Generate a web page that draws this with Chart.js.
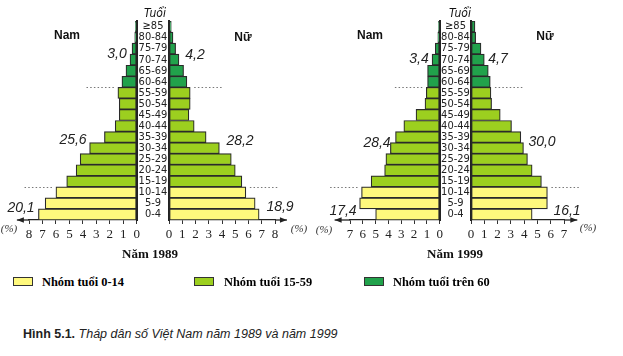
<!DOCTYPE html>
<html><head><meta charset="utf-8">
<script src="https://cdn.jsdelivr.net/npm/chart.js@4.4.1/dist/chart.umd.min.js"></script>
<style>
html,body{margin:0;padding:0;background:#fff;}
#wrap{position:relative;width:623px;height:356px;overflow:hidden;background:#fff;}
canvas{position:absolute;top:0;}
.t{position:absolute;transform:translate(-50%,-50%);white-space:nowrap;line-height:1;color:#111;}
.narrow{font-family:'Liberation Sans Narrow','Arial Narrow','DejaVu Sans Condensed','Liberation Sans',sans-serif;}
.val{font-family:'Liberation Sans Narrow','Arial Narrow','Liberation Sans',sans-serif;font-style:italic;font-size:14px;color:#222;}
.side{font-family:'Liberation Sans','Arial',sans-serif;font-weight:bold;font-size:12px;}
.year{font-family:'Liberation Serif','Times New Roman',serif;font-weight:bold;font-size:13px;}
.pct{font-family:'Liberation Serif','Times New Roman',serif;font-style:italic;font-size:11px;color:#333;}
.leg{position:absolute;top:282px;transform:translateY(-50%);font-family:'Liberation Serif','Times New Roman',serif;font-weight:bold;font-size:12.4px;white-space:nowrap;line-height:1;}
.box{position:absolute;top:277px;width:18px;height:7px;border:1.3px solid #333;}
.cap{position:absolute;left:23px;top:334px;transform:translateY(-50%);font-family:'Liberation Sans','Arial',sans-serif;font-size:12.5px;white-space:nowrap;line-height:1;color:#222;}
</style></head>
<body><div id="wrap">
<canvas id="m89" width="138" height="250" style="left:5px"></canvas>
<canvas id="f89" width="168" height="250" style="left:137px"></canvas>
<canvas id="m99" width="126" height="250" style="left:320px"></canvas>
<canvas id="f99" width="149" height="250" style="left:440px"></canvas>
</div>
<script>
// ---- data ----
const ages = ['0-4','5-9','10-14','15-19','20-24','25-29','30-34','35-39','40-44','45-49','50-54','55-59','60-64','65-69','70-74','75-79','80-84','≥85'];
const ageGroup = [0,0,0,1,1,1,1,1,1,1,1,1,2,2,2,2,2,2];
const groupNames = ['Nhóm tuổi 0-14','Nhóm tuổi 15-59','Nhóm tuổi trên 60'];
const male1989   = [7.3, 6.8, 6.0, 5.2, 4.5, 4.2, 3.5, 2.4, 1.6, 1.3, 1.3, 1.4, 1.1, 0.8, 0.5, 0.35, 0.15, 0.1];
const female1989 = [6.8, 6.5, 5.8, 5.5, 5.0, 4.7, 3.8, 2.8, 1.9, 1.5, 1.6, 1.6, 1.35, 1.1, 0.75, 0.5, 0.3, 0.17];
const male1999   = [5.0, 6.25, 6.1, 5.35, 4.3, 4.2, 3.85, 3.45, 2.8, 1.85, 1.15, 1.05, 0.95, 0.95, 0.6, 0.35, 0.15, 0.1];
const female1999 = [4.6, 5.75, 5.75, 5.3, 4.6, 4.25, 3.95, 3.75, 3.05, 2.2, 1.55, 1.5, 1.45, 1.3, 1.0, 0.75, 0.35, 0.3];
const totals1989Male = ['20,1','25,6','3,0'];
const totals1989Female = ['18,9','28,2','4,2'];
const totals1999Male = ['17,4','28,4','3,4'];
const totals1999Female = ['16,1','30,0','4,7'];
const years = ['Năm 1989','Năm 1999'];

// ---- styles ----
const groupColors = ['#FFF97D','#9CCF1F','#21A24B'];
const ageFont = "11px 'Liberation Sans Narrow','Arial Narrow','DejaVu Sans Condensed','Liberation Sans',sans-serif";
const mc = document.createElement('canvas').getContext('2d');
mc.font = ageFont;
const widestAge = Math.max(...ages.map(a => mc.measureText(a).width));

const extrasPlugin = {
  id: 'pyramidExtras',
  afterDraw(chart, args, opts) {
    const {ctx, chartArea, scales} = chart;
    const x = scales.x, y = scales.y;
    const base = chartArea.bottom;
    const edge = x.getPixelForValue(x.max);
    const tip = x.getPixelForValue(opts.arrowTo);
    const dir = Math.sign(tip - edge);
    ctx.save();
    ctx.strokeStyle = '#222'; ctx.fillStyle = '#222'; ctx.lineWidth = 1.3;
    ctx.beginPath(); ctx.moveTo(edge, base); ctx.lineTo(tip, base); ctx.stroke();
    ctx.beginPath(); ctx.moveTo(tip, base); ctx.lineTo(tip - dir*7, base - 2.8); ctx.lineTo(tip - dir*7, base + 2.8); ctx.closePath(); ctx.fill();
    const data = chart.data.datasets[0].data;
    ctx.strokeStyle = '#777'; ctx.lineWidth = 1; ctx.setLineDash([1.5, 2.2]);
    for (let i = 1; i < data.length; i++) {
      if (ageGroup[i] === ageGroup[i-1]) continue;
      const yp = Math.round((y.getPixelForValue(i-1) + y.getPixelForValue(i)) / 2) + 0.5;
      const v = Math.max(data[i-1], data[i]);
      const start = x.getPixelForValue(v) + dir*4;
      ctx.beginPath(); ctx.moveTo(start, yp); ctx.lineTo(start + dir*29, yp); ctx.stroke();
    }
    ctx.restore();
  }
};

function pyramid(id, values, cfg) {
  return new Chart(document.getElementById(id), {
    type: 'bar',
    data: { labels: ages, datasets: [{
      data: values,
      backgroundColor: c => groupColors[ageGroup[c.dataIndex]],
      borderColor: '#2a2a2a', borderWidth: 1.2, borderSkipped: false,
      barPercentage: 1, categoryPercentage: 1
    }]},
    options: {
      indexAxis: 'y', responsive: false, animation: false, devicePixelRatio: 1,
      layout: { padding: cfg.padding },
      plugins: { legend: {display:false}, tooltip: {enabled:false}, pyramidExtras: { arrowTo: cfg.arrowTo } },
      scales: {
        x: {
          min: 0, max: cfg.max, reverse: cfg.male,
          ticks: { stepSize: 1, autoSkip: false, maxRotation: 0, padding: 3, color: '#222',
                   font: { family: "'Liberation Serif','Times New Roman',serif", size: 13 } },
          grid: { display: true, drawOnChartArea: false, drawTicks: true, tickLength: 4, color: '#333', lineWidth: 1 },
          border: { display: true, color: '#222', width: 1.3 },
          afterFit: s => { s.height = 26; }
        },
        y: {
          reverse: true, position: cfg.male ? 'right' : 'left',
          ticks: { display: !cfg.male, autoSkip: false, crossAlign: 'center', color: '#222',
                   padding: Math.max(0, cfg.yWidth/2 - widestAge/2),
                   font: { family: "'Liberation Sans Narrow','Arial Narrow','DejaVu Sans Condensed','Liberation Sans',sans-serif", size: 11 } },
          grid: { display: false, drawTicks: false },
          border: { display: true, color: '#222', width: 2 },
          afterFit: s => { s.width = cfg.yWidth; }
        }
      }
    },
    plugins: [extrasPlugin]
  });
}

pyramid('m89', male1989,   { male: true,  max: 8, arrowTo: 8.9, yWidth: 0,  padding: {left:24, right:6,  top:21, bottom:4} });
pyramid('f89', female1989, { male: false, max: 8, arrowTo: 8.9, yWidth: 32, padding: {left:0,  right:30, top:21, bottom:4} });
pyramid('m99', male1999,   { male: true,  max: 7, arrowTo: 8.2, yWidth: 0,  padding: {left:30, right:6,  top:21, bottom:4} });
pyramid('f99', female1999, { male: false, max: 7, arrowTo: 8.0, yWidth: 31, padding: {left:0,  right:25, top:21, bottom:4} });

// ---- text overlays ----
const wrap = document.getElementById('wrap');
function txt(s, x, y, cls) {
  const d = document.createElement('div'); d.className = 't ' + cls; d.textContent = s;
  d.style.left = x + 'px'; d.style.top = y + 'px'; wrap.appendChild(d); return d;
}
txt('Tuổi', 155, 12.5, 'narrow').style.cssText += ';font-style:italic;font-size:12px;';
txt('Tuổi', 460, 12.5, 'narrow').style.cssText += ';font-style:italic;font-size:12px;';
txt('Nam', 67, 35, 'side'); txt('Nữ', 243, 36.5, 'side');
txt('Nam', 370, 35, 'side'); txt('Nữ', 545, 36, 'side');
// totals: [0-14, 15-59, 60+]
txt(totals1989Male[2], 117, 53, 'val');  txt(totals1989Female[2], 195, 54, 'val');
txt(totals1989Male[1], 73, 138.5, 'val'); txt(totals1989Female[1], 240, 140, 'val');
txt(totals1989Male[0], 21, 207, 'val');  txt(totals1989Female[0], 280, 206, 'val');
txt(totals1999Male[2], 419, 58, 'val');  txt(totals1999Female[2], 498, 57.5, 'val');
txt(totals1999Male[1], 377, 141.7, 'val'); txt(totals1999Female[1], 542, 141, 'val');
txt(totals1999Male[0], 343, 210, 'val'); txt(totals1999Female[0], 567, 210, 'val');
txt('(%)', 9, 228, 'pct'); txt('(%)', 299, 228, 'pct');
txt('(%)', 324, 229, 'pct'); txt('(%)', 588, 227, 'pct');
txt(years[0], 150, 253, 'year'); txt(years[1], 455, 253, 'year');
// legend
const boxX = [13, 194, 364], textX = [42, 224, 393];
groupNames.forEach((n, i) => {
  const b = document.createElement('div'); b.className = 'box'; b.style.left = boxX[i] + 'px'; b.style.background = groupColors[i]; wrap.appendChild(b);
  const t = document.createElement('div'); t.className = 'leg'; t.style.left = textX[i] + 'px'; t.textContent = n; wrap.appendChild(t);
});
const cap = document.createElement('div'); cap.className = 'cap';
cap.innerHTML = '<b>Hình 5.1.</b> <i>Tháp dân số Việt Nam năm 1989 và năm 1999</i>';
wrap.appendChild(cap);
</script>
</body></html>
